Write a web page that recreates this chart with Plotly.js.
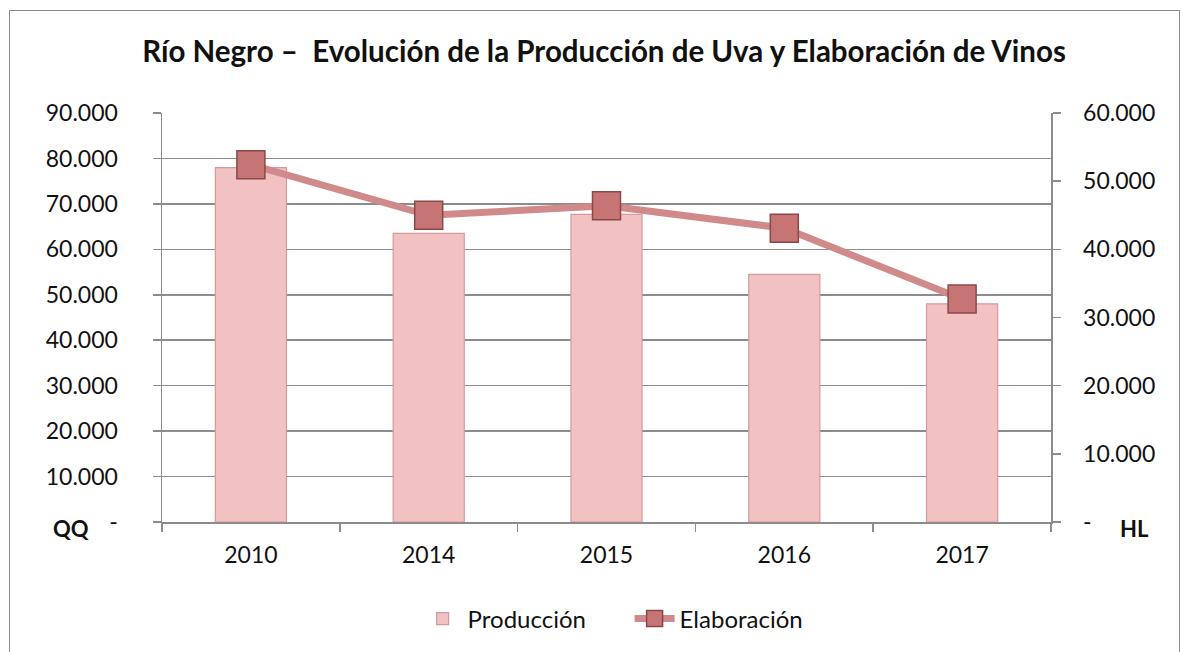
<!DOCTYPE html>
<html>
<head>
<meta charset="utf-8">
<script src="https://cdn.plot.ly/plotly-3.0.1.min.js"></script>
<style>
  html, body { margin: 0; padding: 0; background: #fff; overflow: hidden; }
  #frame { position: absolute; left: 9px; top: 10px; width: 1171px; height: 700px; border: 1.5px solid #8c8c8c; box-sizing: border-box; }
  #chart { position: absolute; left: 0; top: 0; width: 1189px; height: 652px; }
</style>
</head>
<body>
<div id="frame"></div>
<div id="chart"></div>
<script>
const years = ['2010', '2014', '2015', '2016', '2017'];
const produccion = [78000, 63500, 67700, 54500, 48000];
const elaboracion = [52400, 45000, 46400, 43100, 32700];
const leftTicks = [0, 10000, 20000, 30000, 40000, 50000, 60000, 70000, 80000, 90000];
const rightTicks = [0, 10000, 20000, 30000, 40000, 50000, 60000];

function fmt(v) {
  if (v === 0) return '-';
  return String(v).replace(/\B(?=(\d{3})+(?!\d))/g, '.');
}

const FONT = 'Lato, "Open Sans", sans-serif';
const TICK = 23;

const traces = [
  {
    type: 'bar', name: 'Producción', x: years, y: produccion,
    width: 0.4,
    marker: { color: '#f2c2c2', line: { color: '#d39c9c', width: 1.2 } },
    yaxis: 'y'
  },
  {
    type: 'scatter', mode: 'lines+markers', name: 'Elaboración', x: years, y: elaboracion,
    line: { color: '#d08a8a', width: 7 },
    marker: { symbol: 'square', size: 28, color: '#c77474', line: { color: '#8a4848', width: 1.5 } },
    yaxis: 'y2'
  }
];

const layout = {
  width: 1189, height: 652,
  margin: { l: 162, r: 138, t: 113, b: 129 },
  paper_bgcolor: 'rgba(0,0,0,0)',
  plot_bgcolor: '#fff',
  font: { family: FONT, size: TICK, color: '#111' },
  title: {
    text: '<b>Río Negro –  Evolución de la Producción de Uva y Elaboración de Vinos</b>',
    x: 0.508, xanchor: 'center', y: 0.92, yanchor: 'middle',
    font: { family: FONT, size: 29.5, color: '#111' }
  },
  showlegend: true,
  legend: {
    orientation: 'h', x: 0.526, xanchor: 'center', y: -0.234, yanchor: 'middle',
    font: { family: FONT, size: 24, color: '#111' }, traceorder: 'normal',
    itemwidth: 40, entrywidth: 157
  },
  xaxis: {
    type: 'category',
    showline: true, linecolor: '#8c8c8c', linewidth: 1.5,
    ticks: 'outside', tickson: 'boundaries', ticklen: 8, tickcolor: '#8c8c8c', tickwidth: 1.5,
    tickfont: { family: FONT, size: TICK, color: '#111' },
    ticklabelstandoff: 12,
    showgrid: false, zeroline: false, fixedrange: true
  },
  yaxis: {
    range: [0, 90000],
    tickvals: leftTicks, ticktext: leftTicks.map(fmt),
    showline: true, linecolor: '#8c8c8c', linewidth: 1.5,
    ticks: 'outside', ticklen: 8, tickcolor: '#8c8c8c', tickwidth: 1.5,
    ticklabelstandoff: 30,
    showgrid: true, gridcolor: '#8c8c8c', gridwidth: 1.5,
    zeroline: false,
    tickfont: { family: FONT, size: TICK, color: '#111' }, fixedrange: true
  },
  yaxis2: {
    overlaying: 'y', side: 'right',
    range: [0, 60000],
    tickvals: rightTicks, ticktext: rightTicks.map(fmt),
    showline: true, linecolor: '#8c8c8c', linewidth: 1.5,
    ticks: 'outside', ticklen: 8, tickcolor: '#8c8c8c', tickwidth: 1.5,
    ticklabelstandoff: 18,
    showgrid: false, zeroline: false,
    tickfont: { family: FONT, size: TICK, color: '#111' }, fixedrange: true
  },
  annotations: [
    { text: '<b>QQ</b>', xref: 'paper', yref: 'paper', x: -0.102, y: -0.017, xanchor: 'center', yanchor: 'middle', showarrow: false, font: { family: FONT, size: 22, color: '#111' } },
    { text: '<b>HL</b>', xref: 'paper', yref: 'paper', x: 1.094, y: -0.017, xanchor: 'center', yanchor: 'middle', showarrow: false, font: { family: FONT, size: 22, color: '#111' } }
  ]
};

Plotly.newPlot('chart', traces, layout, { displayModeBar: false, staticPlot: true });
</script>
</body>
</html>
